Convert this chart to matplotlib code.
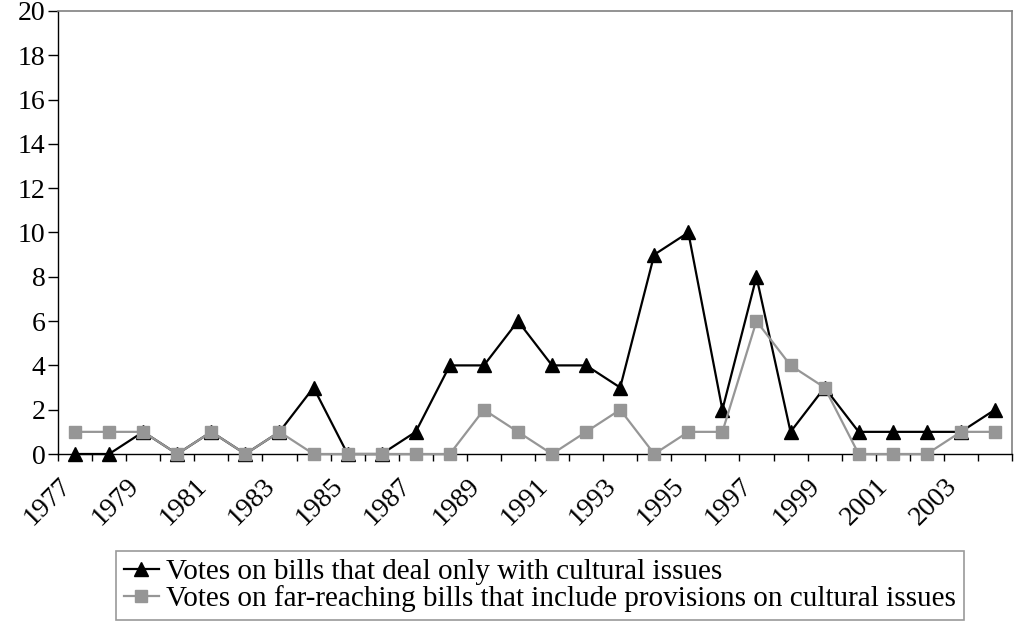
import matplotlib
matplotlib.use('Agg')
import numpy as np
import matplotlib.pyplot as plt
import matplotlib.transforms as mtransforms

plt.rcParams['font.family'] = ['Liberation Serif', 'DejaVu Serif']

# data
years = list(range(1977, 2005))
cultural_only = [0, 0, 1, 0, 1, 0, 1, 3, 0, 0, 1, 4, 4, 6, 4, 4, 3, 9, 10, 2, 8, 1, 3, 1, 1, 1, 1, 2]
far_reaching = [1, 1, 1, 0, 1, 0, 1, 0, 0, 0, 0, 0, 2, 1, 0, 1, 2, 0, 1, 1, 6, 4, 3, 0, 0, 0, 1, 1]
label_black = 'Votes on bills that deal only with cultural issues'
label_gray = 'Votes on far-reaching bills that include provisions on cultural issues'

fig = plt.figure(figsize=(10.14, 6.21), dpi=100)
ax = fig.add_axes([58/1014, 1 - 454/621, (1012-58)/1014, (454-11)/621])

x = np.arange(len(years))
ax.plot(x, cultural_only, color='black', lw=1.6, marker='^', ms=10,
        label=label_black, zorder=3, clip_on=False)
ax.plot(x, far_reaching, color='#969696', lw=1.6, marker='s', ms=8.5,
        label=label_gray, zorder=4, clip_on=False)

ax.set_xlim(-0.5, len(years) - 0.5)
ax.set_ylim(0, 20)
ax.set_yticks(range(0, 21, 2))

# excel style: tick marks between categories, labels every other year
ax.set_xticks(x[::2])
ax.set_xticklabels([str(y) for y in years[::2]], rotation=45, ha='right',
                   rotation_mode='anchor')
ax.set_xticks(np.arange(-0.5, len(years), 1), minor=True)
ax.tick_params(axis='x', which='major', length=0, pad=14, labelsize=20)
ax.tick_params(axis='x', which='minor', length=5, width=1, direction='out')
ax.tick_params(axis='y', length=7, width=1, labelsize=20, pad=2)

shift = mtransforms.ScaledTranslation(-0.17, 0.0, fig.dpi_scale_trans)
for lab in ax.get_xticklabels():
    lab.set_transform(lab.get_transform() + shift)

for s in ['left', 'bottom']:
    ax.spines[s].set_color('black')
    ax.spines[s].set_linewidth(1)
for s in ['top', 'right']:
    ax.spines[s].set_color('#808080')
    ax.spines[s].set_linewidth(1.2)

leg = fig.legend(loc='upper right', bbox_to_anchor=(964/1014, 1 - 551/621),
                 fontsize=21, frameon=True, fancybox=False, handlelength=1.2,
                 handletextpad=0.25, labelspacing=0.0, borderpad=0.27,
                 borderaxespad=0)
leg.get_frame().set_edgecolor('#808080')
leg.get_frame().set_linewidth(1.2)

plt.savefig('out.png', dpi=100)
